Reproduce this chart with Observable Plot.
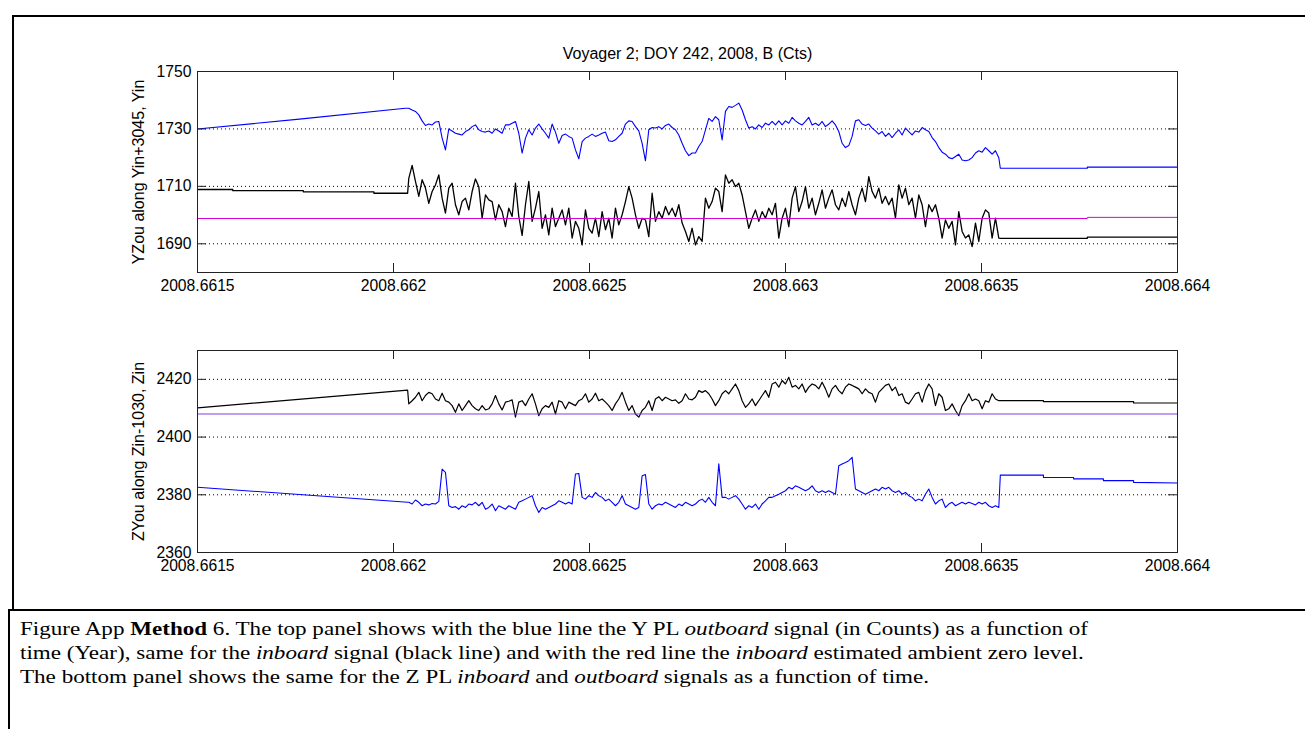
<!DOCTYPE html>
<html>
<head>
<meta charset="utf-8">
<script src="https://cdn.jsdelivr.net/npm/d3@7"></script>
<script src="https://cdn.jsdelivr.net/npm/@observablehq/plot@0.6"></script>
<style>
  html, body { margin: 0; padding: 0; background: #fff; }
  #page { position: relative; width: 1305px; height: 729px; overflow: hidden; background: #fff; }
  #figbox { position: absolute; left: 12px; top: 15px; width: 1300px; height: 594px;
            border-left: 2px solid #000; border-top: 2px solid #000; }
  #capbox { position: absolute; left: 8px; top: 609px; width: 1305px; height: 130px;
            border-left: 2px solid #000; border-top: 2px solid #000; }
  #caption { position: absolute; left: 20px; top: 617px; font-family: "Liberation Serif", "Times New Roman", serif;
             font-size: 19px; line-height: 24px; color: #000; white-space: nowrap;
             transform: scaleX(1.214); transform-origin: 0 0; }
  #top, #bottom { position: absolute; left: 0; }
  #top { top: 0; }
  #bottom { top: 302px; }
</style>
</head>
<body>
<div id="page">
  <div id="figbox"></div>
  <div id="capbox"></div>
  <div id="top"></div>
  <div id="bottom"></div>
  <div id="caption">Figure App <b>Method</b> 6. The top panel shows with the blue line the Y PL <i>outboard</i> signal (in Counts) as a function of<br>time (Year), same for the <i>inboard</i> signal (black line) and with the red line the <i>inboard</i> estimated ambient zero level.<br>The bottom panel shows the same for the Z PL <i>inboard</i> and <i>outboard</i> signals as a function of time.</div>
</div>
<script>
// ---------------- data ----------------
const title = "Voyager 2; DOY 242, 2008, B (Cts)";
const yLabelTop = "YZou along Yin+3045, Yin";
const yLabelBottom = "ZYou along Zin-1030, Zin";
const xDomain = [2008.6615, 2008.664];
const xTicks = [2008.6615, 2008.662, 2008.6625, 2008.663, 2008.6635, 2008.664];
const yDomainTop = [1680, 1750];
const yTicksTop = [1690, 1710, 1730, 1750];
const yGridTop = [1690, 1710, 1730];
const yDomainBottom = [2360, 2430];
const yTicksBottom = [2360, 2380, 2400, 2420];
const yGridBottom = [2380, 2400, 2420];

// sampling grid of the dense (high-rate) part of the record
const sampleStart = 2008.662005;
const sampleStep = 0.0000085034;
const firstSample = 4;

// Y outboard (blue, top panel)
const yOutLeadT = [2008.6615, 2008.66176, 2008.66203];
const yOutLeadV = [1730.0, 1733.4, 1737.2];
const yOutDense = [
  1737.2, 1736.6, 1736.1, 1734.9, 1732.8, 1731.2, 1731.7, 1731.4, 1732.4, 1732.6,
  1726.8, 1722.7, 1730.0, 1729.3, 1728.5, 1728.2, 1727.9, 1729.1, 1729.7, 1730.8,
  1731.4, 1729.7, 1729.1, 1728.9, 1729.3, 1728.5, 1730.0, 1729.3, 1728.5, 1731.4,
  1731.4, 1732.0, 1732.6, 1728.5, 1721.6, 1726.8, 1729.7, 1727.9, 1730.3, 1731.7,
  1730.0, 1728.5, 1726.8, 1731.7, 1728.9, 1725.0, 1727.7, 1728.2, 1727.4, 1726.8,
  1722.7, 1719.6, 1725.6, 1726.8, 1727.4, 1728.2, 1727.4, 1727.9, 1728.5, 1728.9,
  1725.9, 1725.6, 1726.2, 1727.4, 1728.5, 1731.7, 1732.8, 1732.6, 1730.8, 1729.3,
  1725.0, 1718.9, 1729.7, 1730.5, 1730.3, 1730.8, 1730.0, 1731.2, 1731.7, 1730.5,
  1729.7, 1727.9, 1725.0, 1722.4, 1720.7, 1721.6, 1721.6, 1723.9,
  1725.6, 1729.7, 1733.7, 1732.6, 1734.3, 1733.2, 1726.2, 1736.1, 1737.8, 1737.5,
  1738.2, 1739.0, 1736.6, 1733.2, 1730.3, 1730.8, 1730.0, 1731.4, 1730.5, 1732.0,
  1731.4, 1732.6, 1731.4, 1732.8, 1731.4, 1732.8, 1732.0, 1734.0, 1732.8, 1732.0,
  1731.4, 1732.6, 1734.0, 1731.4, 1732.0, 1731.2, 1732.6, 1730.8, 1731.7, 1732.8,
  1731.4, 1729.1, 1725.0, 1723.5, 1724.2, 1727.4, 1732.8, 1733.2, 1731.7, 1731.2,
  1731.7, 1730.3, 1729.3, 1728.2, 1729.1, 1727.4, 1728.5, 1727.0, 1728.5, 1729.7,
  1727.9, 1730.3, 1729.1, 1727.9, 1729.3, 1728.9, 1730.5, 1729.7, 1729.1, 1727.0,
  1725.6, 1723.5, 1721.9, 1721.2, 1720.0, 1719.6, 1720.4, 1721.2, 1719.2, 1718.9,
  1719.2, 1720.0, 1721.6, 1722.4, 1721.9, 1723.5, 1722.4, 1721.2, 1722.4, 1720.0
];
const yOutTailT = [2008.663548, 2008.66377, 2008.66377, 2008.664];
const yOutTailV = [1716.3, 1716.3, 1716.7, 1716.7];

// Y inboard (black, top panel)
const yInLeadT = [2008.6615, 2008.66159, 2008.66159, 2008.66177, 2008.66177, 2008.66195, 2008.66195, 2008.662036];
const yInLeadV = [1708.9, 1708.9, 1708.5, 1708.5, 1708.1, 1708.1, 1707.6, 1707.6];
const yInDense = [
  1712.8, 1717.3, 1711.7, 1706.5, 1712.3, 1709.4, 1704.1, 1708.2, 1710.5, 1714.0,
  1705.9, 1700.7, 1709.4, 1711.1, 1703.6, 1700.1, 1704.7, 1705.9, 1701.8, 1708.2,
  1712.6, 1709.9, 1698.9, 1707.0, 1705.3, 1704.7, 1698.3, 1703.6, 1701.2, 1696.0,
  1702.4, 1699.5, 1711.1, 1699.5, 1692.9, 1703.6, 1711.7, 1697.8, 1702.4, 1708.2,
  1695.4, 1700.1, 1693.1, 1702.4, 1696.0, 1698.9, 1701.8, 1696.6, 1702.4, 1692.0,
  1697.8, 1695.4, 1689.6, 1701.8, 1695.4, 1693.7, 1698.9, 1692.5, 1701.2, 1694.9,
  1698.9, 1692.0, 1702.4, 1696.6, 1700.1, 1704.7, 1709.9, 1705.9, 1700.1, 1695.4,
  1698.9, 1698.3, 1692.5, 1707.6, 1697.8, 1701.2, 1698.9, 1703.0, 1700.1, 1702.4,
  1699.5, 1703.6, 1697.2, 1694.3, 1690.8, 1695.4, 1689.6, 1692.5,
  1690.8, 1705.9, 1702.4, 1704.7, 1709.4, 1708.2, 1701.2, 1714.0, 1711.1, 1712.3,
  1709.9, 1711.1, 1707.0, 1701.2, 1695.4, 1698.9, 1701.8, 1697.8, 1701.2, 1698.9,
  1702.4, 1700.1, 1704.1, 1692.0, 1698.9, 1702.4, 1696.0, 1705.9, 1709.9, 1701.2,
  1704.7, 1709.9, 1702.4, 1705.9, 1700.1, 1704.1, 1708.8, 1702.4, 1705.9, 1708.8,
  1703.6, 1701.8, 1705.9, 1703.0, 1708.2, 1703.6, 1700.1, 1705.9, 1709.4, 1704.7,
  1713.4, 1708.2, 1705.9, 1709.4, 1704.1, 1706.5, 1703.6, 1705.9, 1698.9, 1710.5,
  1705.9, 1709.4, 1703.6, 1705.9, 1698.9, 1707.0, 1703.6, 1696.0, 1703.6, 1701.2,
  1703.6, 1698.9, 1692.0, 1698.3, 1695.4, 1697.8, 1689.6, 1701.2, 1694.3, 1692.0,
  1693.1, 1689.0, 1697.2, 1690.8, 1698.9, 1701.8, 1700.7, 1692.0, 1698.9, 1692.0
];
const yInTailT = [2008.663548, 2008.66377, 2008.66377, 2008.664];
const yInTailV = [1691.9, 1691.9, 1692.3, 1692.3];

// Y inboard estimated ambient zero level (top panel)
const yZeroT = [2008.6615, 2008.66377, 2008.66377, 2008.664];
const yZeroV = [1698.8, 1698.8, 1699.2, 1699.2];

// Z inboard (black, bottom panel)
const zInLeadT = [2008.6615, 2008.662036];
const zInLeadV = [2410.1, 2416.3];
const zInDense = [
  2411.5, 2412.6, 2413.8, 2415.5, 2412.6, 2414.4, 2415.5, 2415.0, 2413.2, 2412.6,
  2415.2, 2412.6, 2412.1, 2410.9, 2408.6, 2411.5, 2409.2, 2410.9, 2412.6, 2410.9,
  2409.8, 2409.2, 2410.9, 2409.4, 2409.8, 2411.5, 2414.4, 2411.5, 2409.4, 2412.1,
  2412.4, 2412.9, 2406.9, 2412.1, 2412.6, 2410.9, 2413.2, 2415.0, 2411.5, 2407.4,
  2409.8, 2410.9, 2410.3, 2412.1, 2408.0, 2412.6, 2412.1, 2409.8, 2412.1, 2411.5,
  2410.9, 2412.6, 2413.2, 2415.0, 2412.1, 2413.2, 2415.2, 2412.6, 2413.2, 2412.1,
  2410.9, 2409.2, 2411.5, 2413.2, 2415.5, 2412.1, 2409.2, 2410.9, 2408.0, 2406.9,
  2409.2, 2410.3, 2412.6, 2409.2, 2413.2, 2414.0, 2412.6, 2413.8, 2413.2, 2412.6,
  2412.9, 2411.7, 2412.6, 2415.0, 2413.2, 2412.9, 2413.8, 2416.1,
  2415.5, 2416.1, 2415.0, 2413.2, 2410.9, 2412.6, 2415.0, 2416.1, 2415.0, 2416.7,
  2418.4, 2416.1, 2412.6, 2410.3, 2411.5, 2413.2, 2410.9, 2412.6, 2414.4, 2416.1,
  2413.8, 2418.4, 2419.0, 2417.3, 2419.6, 2418.4, 2420.7, 2417.3, 2417.9, 2416.7,
  2418.4, 2415.5, 2417.3, 2418.4, 2417.9, 2416.7, 2419.0, 2416.7, 2413.8, 2416.7,
  2417.9, 2416.1, 2415.0, 2417.3, 2418.4, 2417.9, 2417.3, 2416.7, 2415.0, 2416.7,
  2415.5, 2415.0, 2412.1, 2415.5, 2416.7, 2417.9, 2418.4, 2416.1, 2417.3, 2414.4,
  2415.0, 2412.1, 2411.5, 2413.2, 2415.0, 2415.5, 2412.1, 2416.1, 2418.4, 2416.7,
  2410.9, 2415.0, 2413.8, 2409.2, 2409.8, 2411.5, 2409.2, 2407.4, 2410.9, 2412.6,
  2415.0, 2412.6, 2413.2, 2412.6, 2409.8, 2412.6, 2412.1, 2415.0, 2413.2, 2412.6
];
const zInTailT = [2008.663548, 2008.663658, 2008.663658, 2008.663888, 2008.663888, 2008.664];
const zInTailV = [2412.6, 2412.6, 2412.3, 2412.3, 2411.8, 2411.8];

// Z outboard (blue, bottom panel)
const zOutLeadT = [2008.6615, 2008.662036];
const zOutLeadV = [2382.6, 2377.4];
const zOutDense = [
  2377.4, 2376.8, 2378.2, 2377.4, 2376.2, 2376.8, 2376.5, 2377.0, 2376.8, 2377.7,
  2388.9, 2387.8, 2376.2, 2375.6, 2375.9, 2375.0, 2376.2, 2375.6, 2376.8, 2376.5,
  2377.4, 2376.2, 2377.4, 2375.0, 2375.6, 2376.8, 2374.5, 2376.2, 2375.6, 2375.0,
  2376.2, 2375.6, 2375.0, 2377.4, 2377.9, 2378.5, 2379.1, 2379.7, 2376.2, 2373.9,
  2375.6, 2375.0, 2375.6, 2376.2, 2376.8, 2377.9, 2377.4, 2376.8, 2377.4, 2376.8,
  2387.2, 2387.4, 2379.1, 2378.5, 2379.7, 2379.1, 2380.8, 2379.7, 2379.1, 2377.9,
  2378.5, 2377.4, 2376.2, 2377.4, 2379.7, 2376.8, 2376.2, 2375.6, 2375.0, 2375.6,
  2386.6, 2387.0, 2376.8, 2375.0, 2376.2, 2376.8, 2376.5, 2377.4, 2376.8, 2376.2,
  2375.6, 2376.8, 2376.2, 2377.4, 2376.8, 2376.2, 2376.8, 2377.9,
  2378.5, 2377.4, 2379.1, 2377.4, 2376.2, 2390.7, 2379.1, 2379.1, 2378.5, 2379.1,
  2379.7, 2378.5, 2376.8, 2375.0, 2376.2, 2375.6, 2376.8, 2375.0, 2376.8, 2377.9,
  2379.1, 2379.1, 2379.7, 2380.2, 2380.8, 2381.4, 2382.6, 2382.0, 2383.1, 2382.6,
  2382.0, 2381.4, 2382.0, 2383.1, 2381.4, 2380.8, 2381.4, 2380.8, 2381.4, 2380.8,
  2380.2, 2390.1, 2390.7, 2391.2, 2391.8, 2393.0, 2382.0, 2381.4, 2380.8, 2380.2,
  2380.8, 2381.4, 2382.0, 2381.4, 2382.6, 2382.0, 2382.6, 2381.4, 2380.8, 2381.4,
  2380.2, 2380.8, 2379.7, 2379.1, 2377.9, 2378.5, 2377.9, 2380.2, 2382.0, 2379.1,
  2376.8, 2377.9, 2378.5, 2375.6, 2376.8, 2377.4, 2376.2, 2376.8, 2377.4, 2376.8,
  2377.4, 2377.0, 2376.5, 2377.4, 2376.8, 2377.4, 2376.2, 2375.6, 2376.2, 2375.6
];
const zOutTailT = [2008.663548, 2008.663658, 2008.663658, 2008.663735, 2008.663735, 2008.663811, 2008.663811, 2008.663888, 2008.663888, 2008.664];
const zOutTailV = [2386.8, 2386.8, 2386.0, 2386.0, 2385.5, 2385.5, 2384.9, 2384.9, 2384.3, 2384.1];

// Z inboard estimated ambient zero level (bottom panel)
const zZeroT = [2008.6615, 2008.664];
const zZeroV = [2408.0, 2408.0];

// ---------------- build ----------------
function series(leadT, leadV, dense, tailT, tailV) {
  const out = leadT.map((t, i) => ({t, v: leadV[i]}));
  dense.forEach((v, i) => out.push({t: sampleStart + (firstSample + i) * sampleStep, v}));
  tailT.forEach((t, i) => out.push({t, v: tailV[i]}));
  return out;
}
const pairs = (T, V) => T.map((t, i) => ({t, v: V[i]}));

const yOut = series(yOutLeadT, yOutLeadV, yOutDense, yOutTailT, yOutTailV);
const yIn = series(yInLeadT, yInLeadV, yInDense, yInTailT, yInTailV);
const yZero = pairs(yZeroT, yZeroV);
const zIn = series(zInLeadT, zInLeadV, zInDense, zInTailT, zInTailV);
const zOut = series(zOutLeadT, zOutLeadV, zOutDense, zOutTailT, zOutTailV);
const zZero = pairs(zZeroT, zZeroV);

const font = "'Liberation Sans', Arial, Helvetica, sans-serif";
const axisColor = "#222";

function panel({height, marginTop, marginBottom, yDomain, yTicks, yGrid, label, lines, titleText}) {
  const frameH = height - marginTop - marginBottom;
  const frameW = 1305 - 197 - 128;
  const marks = [
    Plot.ruleY(yGrid, {y: d => d, stroke: "#000", strokeWidth: 1, strokeDasharray: "1 3"}),
    ...lines.map(([data, color, w]) => Plot.line(data, {x: "t", y: "v", stroke: color, strokeWidth: w})),
    Plot.frame({stroke: axisColor, strokeWidth: 1}),
    Plot.tickX(xTicks, {x: d => d, insetBottom: frameH - 9, stroke: axisColor}),
    Plot.tickX(xTicks, {x: d => d, insetTop: frameH - 9, stroke: axisColor}),
    Plot.tickY(yTicks, {y: d => d, insetRight: frameW - 9, stroke: axisColor}),
    Plot.tickY(yTicks, {y: d => d, insetLeft: frameW - 9, stroke: axisColor}),
    Plot.axisX({ticks: xTicks, tickSize: 0, tickPadding: 7, tickFormat: d => String(d), label: null, fontSize: 15.7}),
    Plot.axisY({ticks: yTicks, tickSize: 0, tickPadding: 6, tickFormat: d => String(d), label: null, fontSize: 15.7}),
    Plot.text([label], {text: d => d, frameAnchor: "left", textAnchor: "middle", lineAnchor: "middle", rotate: -90, dx: -59, fontSize: 16})
  ];
  if (titleText) marks.push(Plot.text([titleText], {text: d => d, frameAnchor: "top", textAnchor: "middle", lineAnchor: "middle", dy: -18, fontSize: 16}));
  return Plot.plot({
    width: 1305, height, marginLeft: 197, marginRight: 128, marginTop, marginBottom,
    x: {domain: xDomain},
    y: {domain: yDomain},
    style: {fontFamily: font, fontSize: "15.7px", color: "#000", background: "transparent", overflow: "visible"},
    marks
  });
}

document.getElementById("top").append(panel({
  height: 302, marginTop: 71, marginBottom: 30,
  yDomain: yDomainTop, yTicks: yTicksTop, yGrid: yGridTop, label: yLabelTop, titleText: title,
  lines: [[yOut, "#0000ff", 1.1], [yIn, "#000000", 1.3], [yZero, "#d400d4", 1]]
}));
document.getElementById("bottom").append(panel({
  height: 278, marginTop: 48, marginBottom: 28,
  yDomain: yDomainBottom, yTicks: yTicksBottom, yGrid: yGridBottom, label: yLabelBottom,
  lines: [[zIn, "#000000", 1.2], [zOut, "#0000ff", 1.1], [zZero, "#8040e0", 1]]
}));
</script>
</body>
</html>
